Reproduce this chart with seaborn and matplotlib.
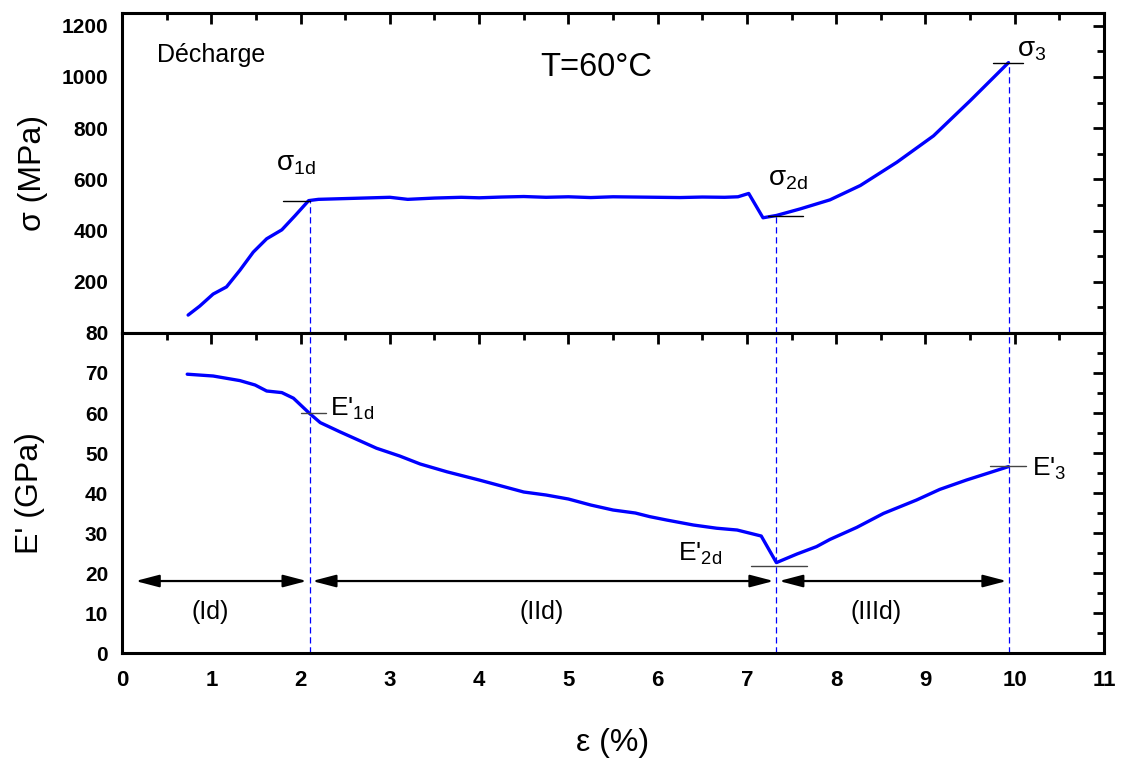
import numpy as np
import pandas as pd
import seaborn as sns
import matplotlib.pyplot as plt
from matplotlib.ticker import MultipleLocator

# stress curve (MPa) vs strain (%)
sig_x = [0.74, 0.87, 1.02, 1.17, 1.32, 1.47, 1.62, 1.79, 1.94, 2.09, 2.2, 2.5, 2.8, 3.0,
         3.2, 3.5, 3.8, 4.0, 4.25, 4.5, 4.75, 5.0, 5.25, 5.5, 5.75, 6.0, 6.25, 6.5, 6.75,
         6.9, 7.02, 7.18, 7.33, 7.6, 7.93, 8.27, 8.68, 9.09, 9.5, 9.93]
sig_y = [70, 105, 152, 180, 245, 316, 368, 403, 459, 517, 522, 525, 528, 530,
         522, 527, 530, 528, 531, 533, 530, 532, 529, 532, 531, 530, 529, 531, 530,
         532, 545, 450, 459, 485, 520, 576, 667, 770, 907, 1056]

# storage modulus (GPa) vs strain (%)
e_x = [0.73, 1.02, 1.32, 1.49, 1.62, 1.79, 1.92, 2.1, 2.22, 2.44, 2.85, 3.11, 3.34, 3.64,
       4.0, 4.25, 4.5, 4.75, 5.0, 5.25, 5.5, 5.75, 5.91, 6.1, 6.4, 6.66, 6.89, 7.16, 7.33,
       7.56, 7.78, 7.93, 8.23, 8.53, 8.9, 9.16, 9.46, 9.72, 9.93]
e_y = [69.7, 69.25, 68.1, 67.0, 65.5, 65.1, 63.7, 59.9, 57.6, 55.3, 51.2, 49.25, 47.25, 45.3,
       43.25, 41.75, 40.25, 39.5, 38.5, 37.0, 35.75, 35.0, 34.1, 33.25, 32.0, 31.2, 30.75, 29.25, 22.6,
       24.75, 26.6, 28.4, 31.4, 34.9, 38.25, 40.9, 43.25, 45.1, 46.6]

# transition points
trans_x = [2.1, 7.33, 9.94]
trans_sig = [517, 455, 1056]
trans_e = [60, 21.75, 46.75]
sig_labels = ['σ$_{\\mathregular{1d}}$', 'σ$_{\\mathregular{2d}}$', 'σ$_{\\mathregular{3}}$']
e_labels = ["E'$_{\\mathregular{1d}}$", "E'$_{\\mathregular{2d}}$", "E'$_{\\mathregular{3}}$"]
zones = ['(Id)', '(IId)', '(IIId)']
zone_bounds = [0.12, 2.1, 7.33, 9.94]

sns.set_style('white')
plt.rcParams['font.family'] = ['Liberation Sans', 'DejaVu Sans']
plt.rcParams.update({'text.color': 'black', 'axes.labelcolor': 'black',
                     'xtick.color': 'black', 'ytick.color': 'black'})

fig, (ax1, ax2) = plt.subplots(2, 1, sharex=True, figsize=(11.27, 7.62), dpi=100)
fig.subplots_adjust(left=0.1083, right=0.9796, top=0.983, bottom=0.143, hspace=0)

sig_df = pd.DataFrame({'eps': sig_x, 'sig': sig_y})
e_df = pd.DataFrame({'eps': e_x, 'E': e_y})
sns.lineplot(data=sig_df, x='eps', y='sig', ax=ax1, color='#0000ff', lw=2.4, sort=False)
sns.lineplot(data=e_df, x='eps', y='E', ax=ax2, color='#0000ff', lw=2.4, sort=False)

ax1.set_xlim(0, 11)
ax1.set_ylim(0, 1250)
ax2.set_ylim(0, 80)

# dashed verticals through both panels
for xv, sv in zip(trans_x, trans_sig):
    ax1.vlines(xv, 0, sv, colors='#0000ff', linestyles=(0, (5, 3)), lw=0.9)
    ax2.axvline(xv, color='#0000ff', ls=(0, (5, 3)), lw=0.9)

# short horizontal markers
sig_seg = [(1.8, 2.1), (7.24, 7.63), (9.76, 10.09)]
e_seg = [(2.0, 2.29), (7.05, 7.67), (9.72, 10.13)]
for (a, b), sv in zip(sig_seg, trans_sig):
    ax1.plot([a, b], [sv, sv], color='black', lw=1)
for (a, b), ev in zip(e_seg, trans_e):
    ax2.plot([a, b], [ev, ev], color='#444444', lw=1)

sig_pos = [(1.73, 634), (7.24, 576), (10.02, 1082)]
for (tx, ty), lab in zip(sig_pos, sig_labels):
    ax1.text(tx, ty, lab, fontsize=20, va='baseline', ha='left')
e_pos = [(2.33, 59.5), (6.23, 23.25), (10.19, 44.5)]
for (tx, ty), lab in zip(e_pos, e_labels):
    ax2.text(tx, ty, lab, fontsize=19, va='baseline', ha='left')

# zone arrows
for i in range(3):
    ax2.annotate('', xy=(zone_bounds[i + 1] - 0.03, 18), xytext=(zone_bounds[i] + 0.03, 18),
                 arrowprops=dict(arrowstyle='<|-|>,head_length=0.65,head_width=0.17',
                                 color='black', lw=1.6, mutation_scale=22,
                                 shrinkA=0, shrinkB=0))
zone_centers = [0.99, 4.7, 8.45]
for xc, lab in zip(zone_centers, zones):
    ax2.text(xc, 10.2, lab, fontsize=18, ha='center', va='center')

ax1.text(0.036, 0.847, 'Décharge', transform=ax1.transAxes, fontsize=18, va='baseline')
ax1.text(0.426, 0.803, 'T=60°C', transform=ax1.transAxes, fontsize=23.5, va='baseline')

ax1.set_yticks([200, 400, 600, 800, 1000, 1200])
ax1.yaxis.set_minor_locator(MultipleLocator(100))
ax2.set_yticks(range(0, 81, 10))
ax2.yaxis.set_minor_locator(MultipleLocator(5))
ax2.set_xticks(range(0, 12))
ax2.xaxis.set_minor_locator(MultipleLocator(0.5))

for ax in (ax1, ax2):
    for s in ax.spines.values():
        s.set_linewidth(2.2)
        s.set_color('black')
    ax.tick_params(which='both', direction='in', top=True, right=True, width=2, color='black')
    ax.tick_params(which='major', length=8)
    ax.tick_params(which='minor', length=5)
    ax.tick_params(axis='y', labelsize=15, pad=10)
    ax.tick_params(axis='x', labelsize=16, pad=12)
    for lab in ax.get_yticklabels() + ax.get_xticklabels():
        lab.set_fontweight('bold')
ax1.tick_params(labelbottom=False)

ax1.set_xlabel('')
ax1.set_ylabel('σ (MPa)', fontsize=23, labelpad=10)
ax2.set_ylabel("E' (GPa)", fontsize=23, labelpad=12)
ax2.set_xlabel('ε (%)', fontsize=23, labelpad=27)
fig.align_ylabels([ax1, ax2])

fig.savefig('out.png', dpi=100)
